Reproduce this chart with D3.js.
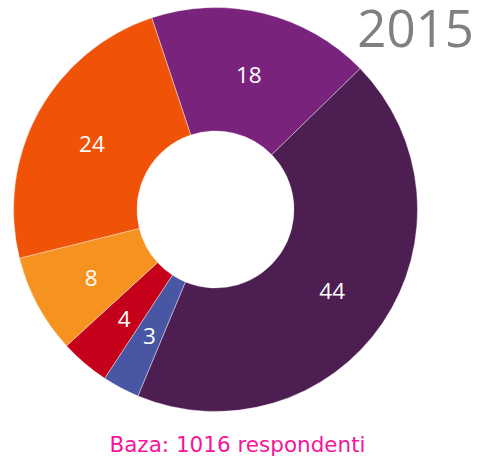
<!DOCTYPE html>
<html>
<head>
<meta charset="utf-8">
<script src="https://cdn.jsdelivr.net/npm/d3@7"></script>
<style>
  html, body { margin: 0; padding: 0; background: #fff; }
  svg { display: block; }
</style>
</head>
<body>
<svg id="chart" width="477" height="459"></svg>
<script>
// Survey shares (%), clockwise from the top
const categories = ["A", "B", "C", "D", "E", "F"];
const values = [18, 44, 3, 4, 8, 24];
const colors = ["#7a237d", "#4d1e51", "#4856a3", "#c5001b", "#f6921f", "#f05307"];
const yearLabel = "2015";
const baseLabel = "Baza: 1016 respondenti";

const svg = d3.select("#chart");
const cx = 215.5, cy = 209.5;
const outerR = 202, innerR = 78.5;

const startDeg = -18.4;
const pie = d3.pie()
  .sort(null)
  .value(d => d.value)
  .startAngle(startDeg * Math.PI / 180)
  .endAngle((startDeg + 360) * Math.PI / 180);

const data = categories.map((c, i) => ({ cat: c, value: values[i] }));
const arcs = pie(data);

const color = d3.scaleOrdinal().domain(categories).range(colors);

const arc = d3.arc().innerRadius(innerR).outerRadius(outerR);
const labelArc = d3.arc().innerRadius(141).outerRadius(141);

const g = svg.append("g").attr("transform", `translate(${cx},${cy})`);

g.selectAll("path.slice")
  .data(arcs)
  .join("path")
  .attr("class", "slice")
  .attr("d", arc)
  .attr("fill", d => color(d.data.cat))
  .attr("stroke", "#ffffff")
  .attr("stroke-width", 0.4);

g.selectAll("text.val")
  .data(arcs)
  .join("text")
  .attr("class", "val")
  .attr("transform", d => `translate(${labelArc.centroid(d)})`)
  .attr("text-anchor", "middle")
  .attr("dy", "0.45em")
  .attr("font-family", "'Open Sans', sans-serif")
  .attr("font-size", 22.5)
  .attr("fill", "#ffffff")
  .text(d => d.data.value);

svg.append("text")
  .attr("x", 474)
  .attr("y", 47)
  .attr("text-anchor", "end")
  .attr("font-family", "'Open Sans', sans-serif")
  .attr("font-size", 51)
  .attr("fill", "#808080")
  .text(yearLabel);

svg.append("text")
  .attr("x", 237.5)
  .attr("y", 452)
  .attr("text-anchor", "middle")
  .attr("font-family", "'DejaVu Sans', Verdana, sans-serif")
  .attr("font-size", 21.5)
  .attr("fill", "#f5169a")
  .text(baseLabel);
</script>
</body>
</html>
